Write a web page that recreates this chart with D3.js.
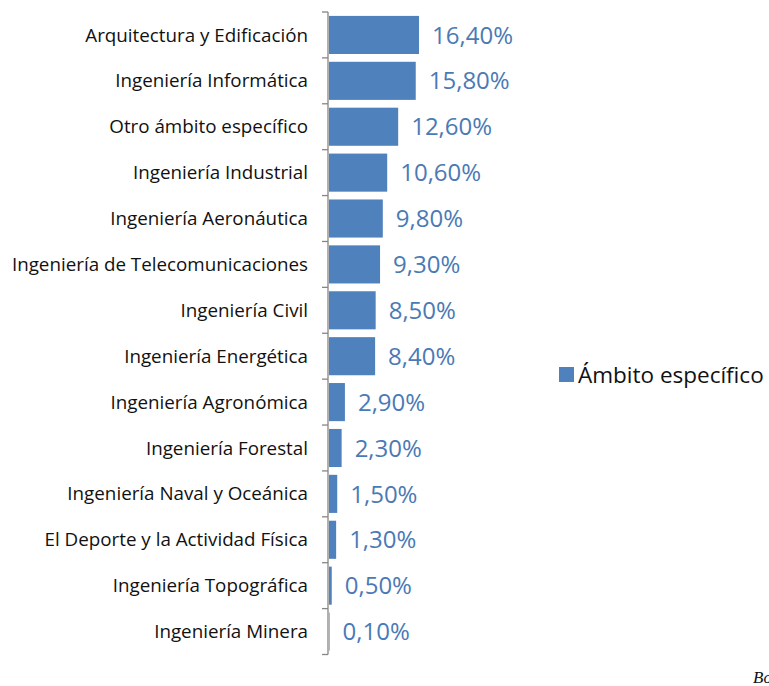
<!DOCTYPE html>
<html>
<head>
<meta charset="utf-8">
<script src="https://cdn.jsdelivr.net/npm/d3@7"></script>
<style>
  body { margin: 0; background: #fff; }
  svg { display: block; }
</style>
</head>
<body>
<div id="chart"></div>
<script>
const categories = [
  "Arquitectura y Edificación",
  "Ingeniería Informática",
  "Otro ámbito específico",
  "Ingeniería Industrial",
  "Ingeniería Aeronáutica",
  "Ingeniería de Telecomunicaciones",
  "Ingeniería Civil",
  "Ingeniería Energética",
  "Ingeniería Agronómica",
  "Ingeniería Forestal",
  "Ingeniería Naval y Oceánica",
  "El Deporte y la Actividad Física",
  "Ingeniería Topográfica",
  "Ingeniería Minera"
];
const values = [16.4, 15.8, 12.6, 10.6, 9.8, 9.3, 8.5, 8.4, 2.9, 2.3, 1.5, 1.3, 0.5, 0.1];
const seriesName = "Ámbito específico";
const sourceNote = "Bo";

const width = 769, height = 686;
const barColor = "#4f81bd";
const labelColor = "#4a7ab5";
const axisColor = "#868686";
const fontFamily = "'Open Sans', 'Noto Sans', sans-serif";

const data = categories.map((c, i) => ({ name: c, value: values[i] }));

const svg = d3.select("#chart").append("svg")
  .attr("width", width)
  .attr("height", height)
  .attr("font-family", fontFamily);

const axisX = 328;

const y = d3.scaleBand()
  .domain(categories)
  .range([12, 654.5])
  .paddingInner(0.17)
  .paddingOuter(0.085);

const x = d3.scaleLinear()
  .domain([0, 20])
  .range([axisX + 1, axisX + 1 + 5.49 * 20]);

// bars
svg.append("g")
  .selectAll("rect")
  .data(data)
  .join("rect")
  .attr("x", x(0))
  .attr("y", d => y(d.name))
  .attr("width", d => x(d.value) - x(0))
  .attr("height", y.bandwidth())
  .attr("fill", barColor);

// vertical axis, ticks sit on the band boundaries
const axis = svg.append("g").attr("stroke", axisColor).attr("stroke-width", 1.3);
const [r0, r1] = y.range();
const step = (r1 - r0) / categories.length;
axis.append("line")
  .attr("x1", axisX).attr("x2", axisX)
  .attr("y1", r0).attr("y2", r1);
axis.selectAll("line.tick")
  .data(d3.range(categories.length + 1))
  .join("line")
  .attr("class", "tick")
  .attr("x1", axisX - 6).attr("x2", axisX)
  .attr("y1", i => r0 + i * step)
  .attr("y2", i => r0 + i * step);

// category labels
svg.append("g")
  .selectAll("text")
  .data(data)
  .join("text")
  .attr("x", axisX - 20)
  .attr("y", d => y(d.name) + y.bandwidth() / 2)
  .attr("dy", "0.35em")
  .attr("text-anchor", "end")
  .attr("font-size", 18.8)
  .attr("fill", "#111")
  .text(d => d.name);

// value labels
const fmt = v => d3.format(".2f")(v).replace(".", ",") + "%";
svg.append("g")
  .selectAll("text")
  .data(data)
  .join("text")
  .attr("x", d => x(d.value) + 13)
  .attr("y", d => y(d.name) + y.bandwidth() / 2)
  .attr("dy", "0.36em")
  .attr("font-size", 24)
  .attr("fill", labelColor)
  .text(d => fmt(d.value));

// legend
const legend = svg.append("g").attr("transform", "translate(559,367)");
legend.append("rect")
  .attr("width", 15).attr("height", 15)
  .attr("fill", barColor);
legend.append("text")
  .attr("x", 19)
  .attr("y", 7.5)
  .attr("dy", "0.36em")
  .attr("font-size", 22.5)
  .attr("fill", "#111")
  .text(seriesName);

// source note, cut by the right edge as in the original
svg.append("text")
  .attr("x", 753)
  .attr("y", 683)
  .attr("font-family", "'Liberation Serif', serif")
  .attr("font-style", "italic")
  .attr("font-size", 17)
  .attr("fill", "#111")
  .text(sourceNote);
</script>
</body>
</html>
